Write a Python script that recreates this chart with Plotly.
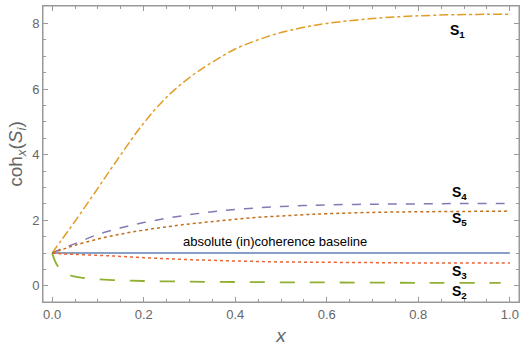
import plotly.graph_objects as go

x_main = [0, 0.02, 0.05, 0.1, 0.15, 0.2, 0.25, 0.3, 0.35, 0.4, 0.45, 0.5, 0.55, 0.6, 0.7, 0.8, 0.9, 1.0]
s1 = [1, 1.39, 1.97, 2.98, 4.0, 4.96, 5.75, 6.35, 6.82, 7.22, 7.5, 7.72, 7.88, 8.0, 8.15, 8.23, 8.27, 8.28]
s4 = [1, 1.13, 1.29, 1.57, 1.77, 1.93, 2.06, 2.17, 2.26, 2.33, 2.38, 2.42, 2.45, 2.47, 2.49, 2.5, 2.51, 2.51]
s5 = [1, 1.1, 1.24, 1.43, 1.58, 1.7, 1.8, 1.89, 1.96, 2.03, 2.09, 2.13, 2.17, 2.2, 2.24, 2.26, 2.27, 2.28]
s3 = [1, 0.98, 0.96, 0.93, 0.9, 0.86, 0.83, 0.8, 0.78, 0.76, 0.745, 0.73, 0.725, 0.72, 0.71, 0.7, 0.7, 0.7]
x_s2 = [0, 0.005, 0.01, 0.02, 0.03, 0.045, 0.06, 0.08, 0.1, 0.15, 0.2, 0.3, 0.4, 0.5, 0.6, 0.8, 0.98]
s2 = [1, 0.8, 0.65, 0.47, 0.38, 0.3, 0.26, 0.22, 0.2, 0.17, 0.15, 0.13, 0.12, 0.11, 0.105, 0.095, 0.09]
x_base = [0, 1]
baseline = [1, 1]

x_ticks = [0, 0.2, 0.4, 0.6, 0.8, 1.0]
y_ticks = [0, 2, 4, 6, 8]

fig = go.Figure()
fig.add_trace(go.Scatter(x=x_base, y=baseline, mode="lines",
                         line=dict(color="#5E81B5", width=1.5)))
fig.add_trace(go.Scatter(x=x_main, y=s1, mode="lines", line_shape="spline",
                         line=dict(color="#E19C24", width=1.5, dash="dashdot")))
fig.add_trace(go.Scatter(x=x_s2, y=s2, mode="lines", line_shape="spline",
                         line=dict(color="#8FB032", width=1.8, dash="longdash")))
fig.add_trace(go.Scatter(x=x_main, y=s3, mode="lines", line_shape="spline",
                         line=dict(color="#EB6235", width=1.5, dash="dot")))
fig.add_trace(go.Scatter(x=x_main, y=s4, mode="lines", line_shape="spline",
                         line=dict(color="#8778B3", width=1.5, dash="dash")))
fig.add_trace(go.Scatter(x=x_main, y=s5, mode="lines", line_shape="spline",
                         line=dict(color="#C56E1A", width=1.5, dash="dot")))

labels = [("1", 0.885, 7.77), ("4", 0.89, 2.83), ("5", 0.89, 2.03),
          ("3", 0.89, 0.42), ("2", 0.89, -0.19)]
for sub, lx, ly in labels:
    fig.add_annotation(x=lx, y=ly, text=f"<b>S</b><sub><b>{sub}</b></sub>",
                       showarrow=False, font=dict(size=14, color="black",
                                                  family="Liberation Sans"))
fig.add_annotation(x=0.486, y=1.36, text="absolute (in)coherence baseline",
                   showarrow=False, font=dict(size=13, color="black",
                                              family="Liberation Sans"))

# frame around plot area
fig.add_shape(type="rect", xref="paper", yref="paper", x0=0, x1=1, y0=0, y1=1,
              line=dict(color="#999999", width=1), layer="above")

axis_common = dict(showgrid=False, zeroline=False, showline=True, linecolor="#999999",
                   linewidth=1, mirror="allticks", ticks="inside", ticklen=5,
                   automargin=False,
                   tickcolor="#999999", tickfont=dict(size=13, color="#666666",
                                                       family="Liberation Sans"))
fig.update_xaxes(range=[-0.02, 1.02], tickvals=x_ticks, tickformat=".1f",
                 minor=dict(dtick=0.05, ticks="inside", ticklen=3, tickcolor="#999999"),
                 title=dict(text="<i>x</i>", font=dict(size=19, color="#666666",
                                                       family="Liberation Sans"), standoff=8),
                 **axis_common)
fig.update_yaxes(range=[-0.49, 8.53], tickvals=y_ticks,
                 minor=dict(dtick=0.5, ticks="inside", ticklen=3, tickcolor="#999999"),
                 title=dict(text="coh<sub><i>x</i></sub>(<i>S</i><sub><i>i</i></sub>)",
                            font=dict(size=19, color="#666666", family="Liberation Sans"),
                            standoff=4),
                 **axis_common)
fig.update_layout(width=521, height=347, margin=dict(l=43, r=2, t=6, b=45),
                  plot_bgcolor="white", paper_bgcolor="white", showlegend=False)
fig.write_html("out.html", config={"displayModeBar": False},
               post_script="document.body.style.margin='0';")
